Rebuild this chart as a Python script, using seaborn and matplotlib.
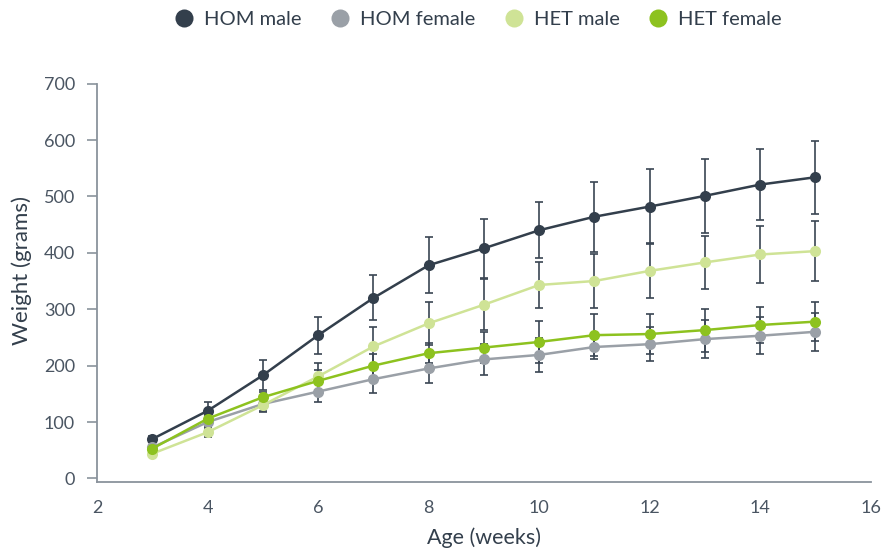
import matplotlib
matplotlib.use("Agg")
import matplotlib.pyplot as plt
from matplotlib.lines import Line2D
import seaborn as sns
import pandas as pd
import numpy as np

# ---- data ----
weeks = [3, 4, 5, 6, 7, 8, 9, 10, 11, 12, 13, 14, 15]
series_names = ["HOM male", "HOM female", "HET male", "HET female"]
hom_male = [70, 120, 183, 254, 320, 378, 408, 440, 464, 482, 501, 521, 534]
hom_female = [55, 100, 132, 154, 176, 195, 211, 219, 233, 238, 247, 253, 260]
het_male = [44, 82, 130, 181, 234, 275, 308, 343, 350, 368, 383, 397, 403]
het_female = [53, 106, 144, 173, 200, 222, 232, 242, 254, 256, 263, 272, 278]
hom_male_err = [6, 15, 27, 33, 40, 50, 52, 50, 62, 66, 66, 63, 65]
hom_female_err = [5, 8, 13, 19, 25, 25, 28, 30, 22, 30, 33, 33, 34]
het_male_err = [5, 8, 12, 24, 35, 38, 45, 40, 47, 49, 47, 50, 53]
het_female_err = [4, 6, 10, 20, 20, 18, 27, 37, 37, 35, 38, 32, 35]

values = [hom_male, hom_female, het_male, het_female]
errors = [hom_male_err, hom_female_err, het_male_err, het_female_err]
colors = ["#333f4c", "#9aa0a7", "#cfe396", "#8dc21f"]

df = pd.DataFrame({
    "Age": np.tile(weeks, 4),
    "Weight": np.concatenate(values),
    "Group": np.repeat(series_names, len(weeks)),
})

sns.set_theme(style="white")
plt.rcParams["font.family"] = ["Lato", "DejaVu Sans"]

fig = plt.figure(figsize=(8.84, 5.5), dpi=100)
ax = fig.add_axes([0.110, 0.124, 0.875, 0.724])

err_color = "#3a4553"
for vals, errs in zip(values, errors):
    ax.errorbar(weeks, vals, yerr=errs, fmt="none", ecolor=err_color,
                elinewidth=1.2, capsize=2.8, capthick=1.2, zorder=1)

sns.lineplot(data=df, x="Age", y="Weight", hue="Group", hue_order=series_names,
             palette=colors, marker="o", markersize=8, markeredgewidth=0,
             linewidth=1.8, ax=ax, legend=False, zorder=3, sort=False)

ax.set_xlim(2, 16)
ax.set_ylim(-6, 700)
ax.set_xticks([2, 4, 6, 8, 10, 12, 14, 16])
ax.set_yticks([0, 100, 200, 300, 400, 500, 600, 700])

spine_c = "#8a939c"
for s in ["top", "right"]:
    ax.spines[s].set_visible(False)
for s in ["left", "bottom"]:
    ax.spines[s].set_color(spine_c)
    ax.spines[s].set_linewidth(1.3)
ax.tick_params(axis="y", length=7, width=1.2, color=spine_c, labelsize=13,
               labelcolor="#4a5562", pad=9, left=True)
ax.tick_params(axis="x", length=0, labelsize=13, labelcolor="#4a5562", pad=13)

ax.set_xlabel("Age (weeks)", fontsize=15.5, color="#333f4c", labelpad=8)
ax.set_ylabel("Weight (grams)", fontsize=16, color="#333f4c")
ax.yaxis.set_label_coords(-0.084, 0.53)

handles = [Line2D([0], [0], marker="o", linestyle="none", markersize=13,
                  markerfacecolor=c, markeredgewidth=0) for c in colors]
fig.legend(handles, series_names, loc="center", bbox_to_anchor=(0.535, 0.965),
           ncol=4, frameon=False, fontsize=14.5, handletextpad=0.0,
           columnspacing=0.9, labelcolor="#333f4c")

fig.savefig("out.png", dpi=100)
